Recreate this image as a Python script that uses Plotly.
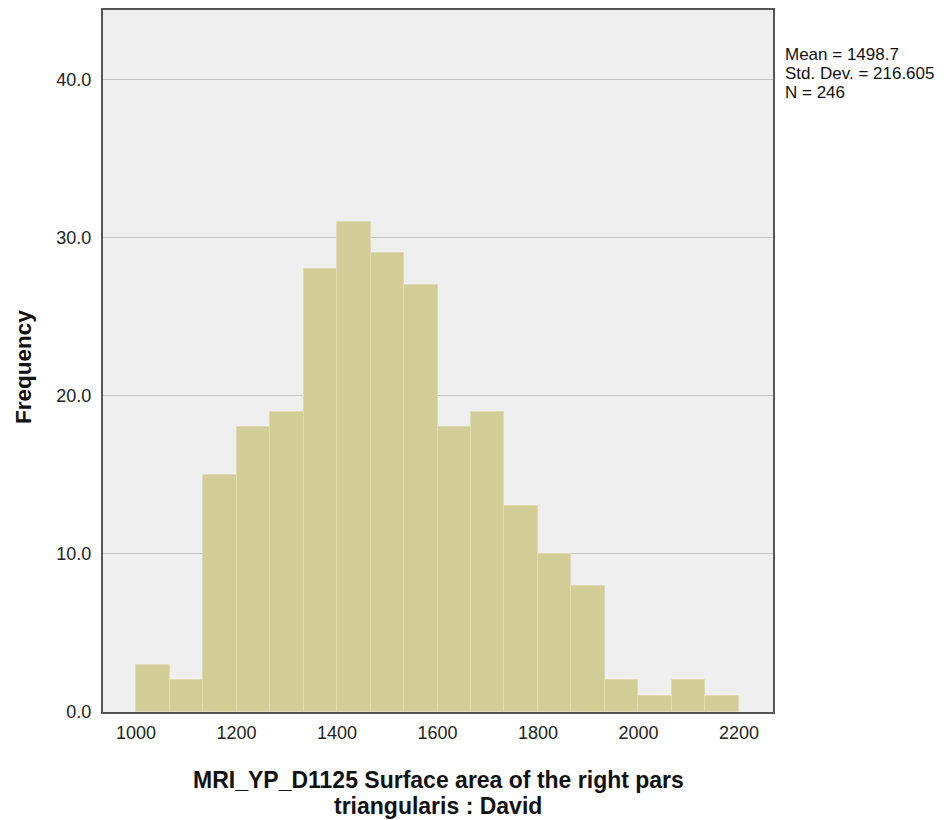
import plotly.graph_objects as go

# histogram counts (18 bins from 1000 to 2200)
counts = [3, 2, 15, 18, 19, 28, 31, 29, 27, 18, 19, 13, 10, 8, 2, 1, 2, 1]
bin_start = 1000
bin_end = 2200
x_ticks = [1000, 1200, 1400, 1600, 1800, 2000, 2200]
y_ticks = [0, 10, 20, 30, 40]
stats_text = ["Mean = 1498.7", "Std. Dev. = 216.605", "N = 246"]
x_title = ["MRI_YP_D1125 Surface area of the right pars", "triangularis : David"]
y_title = "Frequency"

bin_width = (bin_end - bin_start) / len(counts)
centers = [bin_start + bin_width * (i + 0.5) for i in range(len(counts))]

font = "Liberation Sans, Arial, sans-serif"

fig = go.Figure()
fig.add_trace(go.Bar(
    x=centers,
    y=counts,
    width=bin_width,
    marker=dict(color="#d1cd97", line=dict(color="#dedbb3", width=1)),
    hoverinfo="x+y",
))

# stats box text, one line per annotation to keep SPSS-like tight spacing
for i, line in enumerate(stats_text):
    fig.add_annotation(
        x=1.0, xref="paper", xanchor="left", xshift=10,
        y=1.0, yref="paper", yanchor="middle", yshift=-44 - 19 * i,
        text=line, showarrow=False, align="left",
        font=dict(family=font, size=17, color="#111111"),
    )

# x axis title (two tight lines)
for i, line in enumerate(x_title):
    fig.add_annotation(
        x=0.5, xref="paper", xanchor="center",
        y=0.0, yref="paper", yanchor="middle", yshift=-68 - 26 * i,
        text=f"<b>{line}</b>", showarrow=False,
        font=dict(family=font, size=23, color="#111111"),
    )

# y axis title
fig.add_annotation(
    x=0.0, xref="paper", xanchor="center", xshift=-80,
    y=0.5, yref="paper", yanchor="middle", yshift=-6,
    text=f"<b>{y_title}</b>", showarrow=False, textangle=-90,
    font=dict(family=font, size=22.5, color="#111111"),
)

fig.update_layout(
    width=940, height=812,
    margin=dict(l=95, r=175, t=0, b=108),
    paper_bgcolor="white",
    plot_bgcolor="#efefef",
    showlegend=False,
    bargap=0,
    font=dict(family=font, size=18, color="#222222"),
    xaxis=dict(
        range=[934.3, 2267.7],
        tickvals=x_ticks,
        ticktext=[str(v) for v in x_ticks],
        showgrid=False, zeroline=False,
        showline=True, linecolor="#555555", linewidth=2, mirror=True,
        ticks="", ticklen=0, ticklabelstandoff=3,
    ),
    yaxis=dict(
        range=[0, 44.4],
        tickvals=y_ticks,
        ticktext=[f"{v:.1f}" for v in y_ticks],
        showgrid=True, gridcolor="#c4c4c4", gridwidth=1,
        zeroline=False,
        showline=True, linecolor="#555555", linewidth=2, mirror=True,
        ticks="", ticklen=0, ticklabelstandoff=6,
    ),
)

fig.write_html("out.html")
